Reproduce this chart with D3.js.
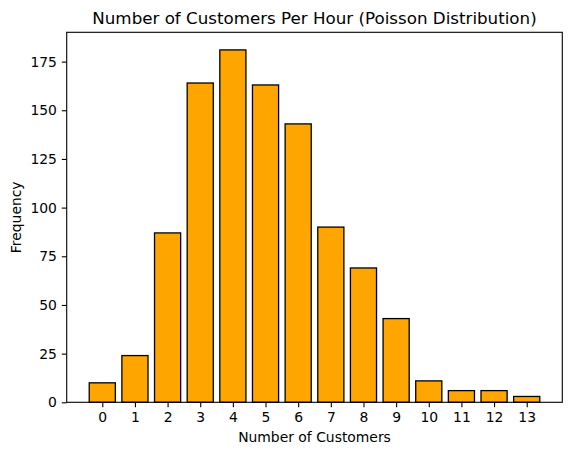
<!DOCTYPE html>
<html><head><meta charset="utf-8">
<script src="https://cdn.jsdelivr.net/npm/d3@7"></script>
<style>body{margin:0;background:#fff}svg text{font-family:"DejaVu Sans",sans-serif;fill:#000}</style>
</head><body><svg id="c" width="571" height="455"></svg>
<script>
const categories = [0,1,2,3,4,5,6,7,8,9,10,11,12,13];
const frequencies = [10,24,87,164,181,163,143,90,69,43,11,6,6,3];
const yTicks = [0,25,50,75,100,125,150,175];
const title = "Number of Customers Per Hour (Poisson Distribution)";
const xLabel = "Number of Customers";
const yLabel = "Frequency";

const svg = d3.select("#c");
const L = 66.7, R = 562.3, T = 32.3, B = 402.3;
const bw = 0.8;
const xmin = -bw/2, xmax = categories.length - 1 + bw/2;
const xpad = (xmax - xmin) * 0.05;
const x = d3.scaleLinear().domain([xmin - xpad, xmax + xpad]).range([L, R]);
const y = d3.scaleLinear().domain([0, d3.max(frequencies) * 1.05]).range([B, T]);

svg.append("g").selectAll("rect").data(categories).join("rect")
  .attr("x", d => x(d - bw/2)).attr("width", d => x(d + bw/2) - x(d - bw/2))
  .attr("y", (d,i) => y(frequencies[i])).attr("height", (d,i) => y(0) - y(frequencies[i]))
  .attr("fill", "#FFA500").attr("stroke", "#000").attr("stroke-width", 1.3);

const xa = svg.append("g").attr("transform", `translate(0,${B})`)
  .call(d3.axisBottom(x).tickValues(categories).tickSize(4.9).tickPadding(4.9).tickFormat(d3.format("d")));
const ya = svg.append("g").attr("transform", `translate(${L},0)`)
  .call(d3.axisLeft(y).tickValues(yTicks).tickSize(4.9).tickPadding(4.9));
[xa, ya].forEach(a => {
  a.select(".domain").remove();
  a.selectAll(".tick line").attr("stroke", "#000").attr("stroke-width", 1.1);
  a.selectAll(".tick text").style("font-size", "13.9px").style("font-family", '"DejaVu Sans",sans-serif');
});

svg.append("rect").attr("x", L).attr("y", T).attr("width", R - L).attr("height", B - T)
  .attr("fill", "none").attr("stroke", "#000").attr("stroke-width", 1.1);

svg.append("text").attr("x", (L + R) / 2).attr("y", T - 8.3).attr("text-anchor", "middle")
  .style("font-size", "16.7px").text(title);
svg.append("text").attr("x", (L + R) / 2).attr("y", 442).attr("text-anchor", "middle")
  .style("font-size", "13.9px").text(xLabel);
svg.append("text").attr("transform", `translate(21,${(T + B) / 2}) rotate(-90)`).attr("text-anchor", "middle")
  .style("font-size", "13.9px").text(yLabel);
</script></body></html>
